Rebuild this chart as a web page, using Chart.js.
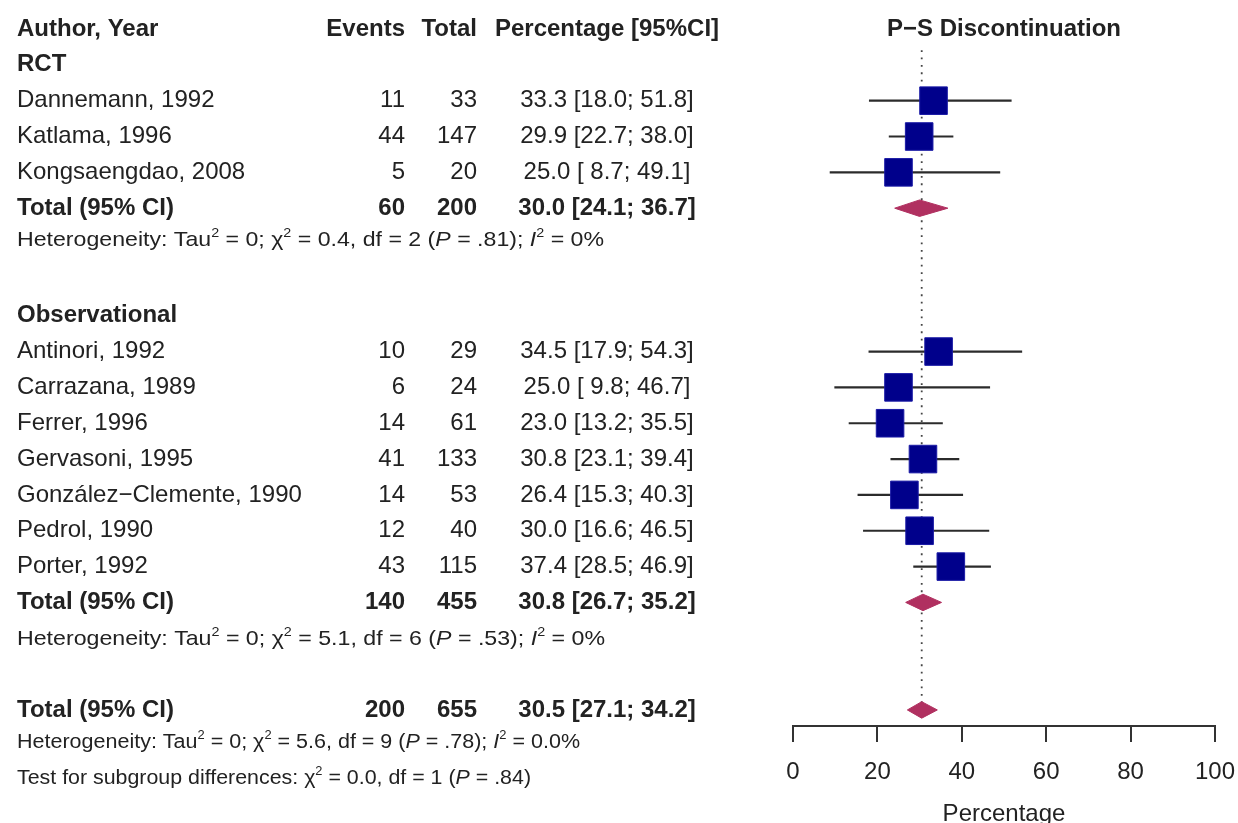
<!DOCTYPE html>
<html>
<head>
<meta charset="utf-8">
<script src="https://cdn.jsdelivr.net/npm/chart.js@4.4.1/dist/chart.umd.min.js"></script>
<style>
  html, body { margin: 0; padding: 0; background: #fff; overflow: hidden; }
  #wrap { position: relative; width: 1238px; height: 840px; }
</style>
</head>
<body>
<div id="wrap"><canvas id="forest"></canvas></div>
<script>
// ---- data ----
const rctStudies = ['Dannemann, 1992', 'Katlama, 1996', 'Kongsaengdao, 2008'];
const rctEvents = [11, 44, 5];
const rctTotal = [33, 147, 20];
const rctEst = [33.3, 29.9, 25.0];
const rctLower = [18.0, 22.7, 8.7];
const rctUpper = [51.8, 38.0, 49.1];

const obsStudies = ['Antinori, 1992', 'Carrazana, 1989', 'Ferrer, 1996', 'Gervasoni, 1995',
  'González\u2212Clemente, 1990', 'Pedrol, 1990', 'Porter, 1992'];
const obsEvents = [10, 6, 14, 41, 14, 12, 43];
const obsTotal = [29, 24, 61, 133, 53, 40, 115];
const obsEst = [34.5, 25.0, 23.0, 30.8, 26.4, 30.0, 37.4];
const obsLower = [17.9, 9.8, 13.2, 23.1, 15.3, 16.6, 28.5];
const obsUpper = [54.3, 46.7, 35.5, 39.4, 40.3, 46.5, 46.9];

// pooled: RCT, Observational, overall
const pooledEvents = [60, 140, 200];
const pooledTotal = [200, 455, 655];
const pooledEst = [30.0, 30.8, 30.5];
const pooledLower = [24.1, 26.7, 27.1];
const pooledUpper = [36.7, 35.2, 34.2];

const hetTau2 = ['0', '0', '0'];
const hetChi2 = ['0.4', '5.1', '5.6'];
const hetDf = [2, 6, 9];
const hetP = ['.81', '.53', '.78'];
const hetI2 = ['0%', '0%', '0.0%'];
const subChi2 = '0.0';
const subDf = 1;
const subP = '.84';

const xTicks = [0, 20, 40, 60, 80, 100];

// ---- row layout ----
let next = 1;
const rowRctHead = next++;
const rowsRct = rctStudies.map(() => next++);
const rowRctPooled = next++;
const rowRctHet = next++;
next++;
const rowObsHead = next++;
const rowsObs = obsStudies.map(() => next++);
const rowObsPooled = next++;
const rowObsHet = next++;
next++;
const rowAllPooled = next++;
const rowAllHet = next++;
const rowSubgroup = next++;
const pooledRows = [rowRctPooled, rowObsPooled, rowAllPooled];

const FONT = "'Liberation Sans', Arial, Helvetica, sans-serif";
const INK = '#222';

function pctText(e, lo, hi) {
  return e.toFixed(1) + ' [' + (lo < 10 ? ' ' : '') + lo.toFixed(1) + '; ' + hi.toFixed(1) + ']';
}

// ---- datasets ----
const datasets = [];

// dotted line at overall estimate
datasets.push({
  data: [{x: pooledEst[2], y: 0.59}, {x: pooledEst[2], y: rowAllPooled}],
  borderColor: '#444', borderWidth: 1.8, borderDash: [1.8, 5.6],
  pointRadius: 0, order: 6
});

// confidence intervals
const allEst = rctEst.concat(obsEst);
const allLo = rctLower.concat(obsLower);
const allHi = rctUpper.concat(obsUpper);
const allRows = rowsRct.concat(rowsObs);
allRows.forEach((r, i) => {
  datasets.push({
    data: [{x: allLo[i], y: r}, {x: allHi[i], y: r}],
    borderColor: '#2b2b2b', borderWidth: 2.2, pointRadius: 0, order: 4
  });
});

// pooled diamonds
const half = 0.23;
pooledRows.forEach((r, i) => {
  datasets.push({
    data: [
      {x: pooledLower[i], y: r}, {x: pooledEst[i], y: r - half},
      {x: pooledUpper[i], y: r}, {x: pooledEst[i], y: r + half},
      {x: pooledLower[i], y: r}
    ],
    borderColor: '#B03060', backgroundColor: '#B03060', borderWidth: 1,
    fill: 'shape', pointRadius: 0, order: 2
  });
});

// study squares
datasets.push({
  data: allRows.map((r, i) => ({x: allEst[i], y: r})),
  showLine: false, pointStyle: 'rect', pointRadius: 19.5,
  backgroundColor: '#00008B', borderColor: '#1a1aa6', borderWidth: 1, order: 1
});

// ---- left-hand table ----
function drawRich(ctx, parts, x, y, size, targetW) {
  const fontOf = p => (p.it ? 'italic ' : '') + (p.sup ? Math.round(size * 0.62) : size) + 'px ' + FONT;
  let w = 0;
  parts.forEach(p => { ctx.font = fontOf(p); p.w = ctx.measureText(p.t).width; w += p.w; });
  const sx = targetW / w;
  ctx.save();
  ctx.translate(x, y);
  ctx.scale(sx, 1);
  ctx.textAlign = 'left';
  let cx = 0;
  parts.forEach(p => {
    ctx.font = fontOf(p);
    ctx.fillText(p.t, cx, p.sup ? -size * 0.33 : 0);
    cx += p.w;
  });
  ctx.restore();
}

function hetParts(i) {
  return [
    {t: 'Heterogeneity: Tau'}, {t: '2', sup: true}, {t: ' = ' + hetTau2[i] + '; '},
    {t: '\u03c7'}, {t: '2', sup: true}, {t: ' = ' + hetChi2[i] + ', df = ' + hetDf[i] + ' ('},
    {t: 'P', it: true}, {t: ' = ' + hetP[i] + '); '},
    {t: 'I', it: true}, {t: '2', sup: true}, {t: ' = ' + hetI2[i]}
  ];
}

const tablePlugin = {
  id: 'forestTable',
  afterDraw(chart) {
    const ctx = chart.ctx;
    const py = v => chart.scales.y.getPixelForValue(v);
    const xName = 17, xEv = 405, xTot = 477, xPct = 607;
    ctx.save();
    ctx.fillStyle = INK;
    ctx.textBaseline = 'middle';

    const row = (name, ev, tot, pct, r, bold) => {
      ctx.font = (bold ? 'bold ' : '') + '24px ' + FONT;
      ctx.textAlign = 'left'; ctx.fillText(name, xName, py(r));
      if (ev !== null) {
        ctx.textAlign = 'right'; ctx.fillText(String(ev), xEv, py(r));
        ctx.fillText(String(tot), xTot, py(r));
        ctx.textAlign = 'center'; ctx.fillText(pct, xPct, py(r));
      }
    };

    // header + plot title
    ctx.font = 'bold 24px ' + FONT;
    ctx.textAlign = 'left'; ctx.fillText('Author, Year', xName, py(0));
    ctx.textAlign = 'right'; ctx.fillText('Events', xEv, py(0));
    ctx.fillText('Total', xTot, py(0));
    ctx.textAlign = 'center'; ctx.fillText('Percentage [95%CI]', xPct, py(0));
    const xs = chart.scales.x;
    ctx.fillText('P\u2212S Discontinuation', (xs.left + xs.right) / 2, py(0));

    row('RCT', null, null, null, rowRctHead, true);
    rctStudies.forEach((s, i) => row(s, rctEvents[i], rctTotal[i],
      pctText(rctEst[i], rctLower[i], rctUpper[i]), rowsRct[i], false));
    row('Total (95% CI)', pooledEvents[0], pooledTotal[0],
      pctText(pooledEst[0], pooledLower[0], pooledUpper[0]), rowRctPooled, true);
    drawRich(ctx, hetParts(0), xName, py(rowRctHet) - 4, 21, 587);

    row('Observational', null, null, null, rowObsHead, true);
    obsStudies.forEach((s, i) => row(s, obsEvents[i], obsTotal[i],
      pctText(obsEst[i], obsLower[i], obsUpper[i]), rowsObs[i], false));
    row('Total (95% CI)', pooledEvents[1], pooledTotal[1],
      pctText(pooledEst[1], pooledLower[1], pooledUpper[1]), rowObsPooled, true);
    drawRich(ctx, hetParts(1), xName, py(rowObsHet) + 1, 21, 588);

    row('Total (95% CI)', pooledEvents[2], pooledTotal[2],
      pctText(pooledEst[2], pooledLower[2], pooledUpper[2]), rowAllPooled, true);
    drawRich(ctx, hetParts(2), xName, py(rowAllHet) - 3, 20, 563);
    drawRich(ctx, [
      {t: 'Test for subgroup differences: '}, {t: '\u03c7'}, {t: '2', sup: true},
      {t: ' = ' + subChi2 + ', df = ' + subDf + ' ('}, {t: 'P', it: true}, {t: ' = ' + subP + ')'}
    ], xName, py(rowSubgroup) - 3, 20, 514);
    ctx.restore();
  }
};

new Chart(document.getElementById('forest'), {
  type: 'line',
  data: { datasets: datasets },
  plugins: [tablePlugin],
  options: {
    responsive: true,
    maintainAspectRatio: false,
    animation: false,
    events: [],
    layout: { autoPadding: false, padding: { left: 793, right: 23, top: 0, bottom: 14 } },
    plugins: { legend: { display: false }, tooltip: { enabled: false } },
    scales: {
      x: {
        type: 'linear', min: 0, max: 100,
        afterBuildTicks: axis => { axis.ticks = xTicks.map(v => ({ value: v })); },
        afterFit: axis => { axis.paddingLeft = 0; axis.paddingRight = 0; },
        ticks: { font: { family: FONT, size: 24 }, color: INK, padding: 15.6, maxRotation: 0 },
        grid: { drawOnChartArea: false, drawTicks: true, tickLength: 16, color: '#333', lineWidth: 2 },
        border: { display: true, color: '#333', width: 2 },
        title: { display: true, text: 'Percentage', color: INK, padding: 0,
                 font: { family: FONT, size: 24, lineHeight: 1 } }
      },
      y: {
        type: 'linear', reverse: true, display: false,
        min: -0.809, max: 19.448
      }
    }
  }
});
</script>
</body>
</html>
